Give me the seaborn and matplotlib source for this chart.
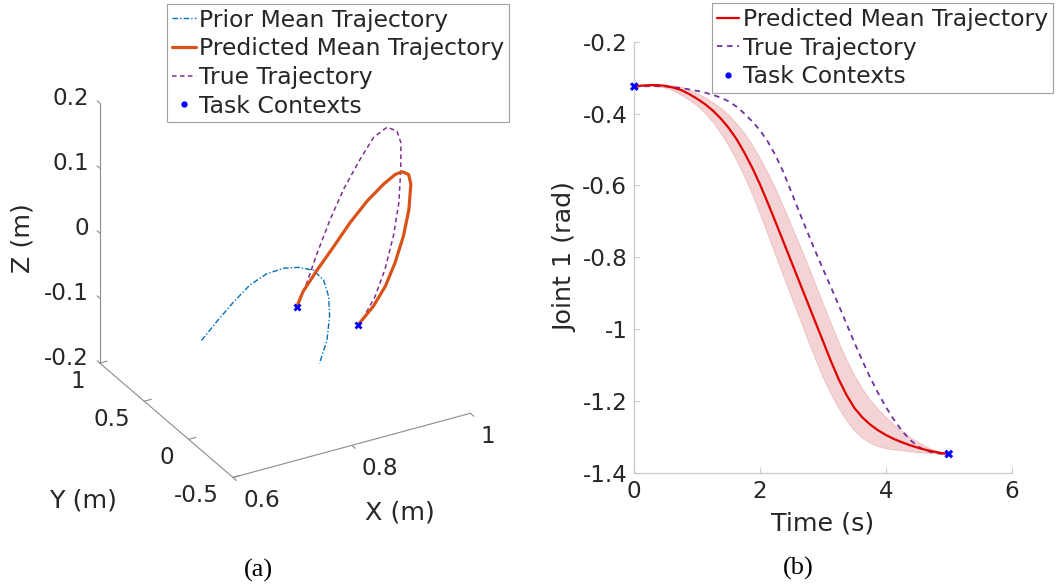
import numpy as np
import matplotlib
matplotlib.use("Agg")
import matplotlib.pyplot as plt
from matplotlib.lines import Line2D
import seaborn as sns

# ---------------- panel (a): 3D trajectories (m) ----------------
x_lim = (0.6, 1.0)
y_lim = (-0.5, 1.0)
z_lim = (-0.2, 0.2)
x_ticks = [0.6, 0.8, 1.0]
x_ticklabels = ["0.6", "0.8", "1"]
y_ticks = [-0.5, 0.0, 0.5, 1.0]
y_ticklabels = ["-0.5", "0", "0.5", "1"]
z_ticks = [-0.2, -0.1, 0.0, 0.1, 0.2]
z_ticklabels = ["-0.2", "-0.1", "0", "0.1", "0.2"]

prior_x = [0.704, 0.725, 0.749, 0.772, 0.796, 0.820, 0.840, 0.861, 0.874, 0.878, 0.875, 0.866, 0.849]
prior_y = [0.55, 0.52, 0.49, 0.46, 0.43, 0.40, 0.37, 0.34, 0.31, 0.28, 0.25, 0.22, 0.19]
prior_z = [-0.138, -0.111, -0.083, -0.059, -0.044, -0.038, -0.038, -0.044, -0.059, -0.082, -0.108, -0.139, -0.167]

pred_x = [0.842, 0.849, 0.869, 0.893, 0.917, 0.942, 0.966, 0.982, 0.990, 0.997, 0.997, 0.990, 0.977, 0.959, 0.939, 0.915, 0.886]
pred_y = [0.4, 0.375, 0.35, 0.325, 0.3, 0.275, 0.25, 0.225, 0.2, 0.175, 0.15, 0.125, 0.1, 0.075, 0.05, 0.025, 0.0]
pred_z = [-0.103, -0.078, -0.047, -0.014, 0.020, 0.050, 0.073, 0.087, 0.092, 0.089, 0.077, 0.043, 0.008, -0.026, -0.054, -0.076, -0.094]

true_x = [0.842, 0.855, 0.869, 0.887, 0.906, 0.930, 0.949, 0.968, 0.981, 0.984, 0.980, 0.973, 0.960, 0.942, 0.922, 0.898, 0.886]
true_y = [0.4, 0.375, 0.35, 0.325, 0.3, 0.275, 0.25, 0.225, 0.2, 0.175, 0.15, 0.125, 0.1, 0.075, 0.05, 0.025, 0.0]
true_z = [-0.103, -0.067, -0.021, 0.029, 0.074, 0.117, 0.149, 0.163, 0.157, 0.141, 0.104, 0.057, 0.012, -0.032, -0.065, -0.090, -0.094]

ctx_x = [0.842, 0.886]
ctx_y = [0.4, 0.0]
ctx_z = [-0.103, -0.094]

# ---------------- panel (b): joint 1 over time ----------------
time_s = [0.0, 0.125, 0.25, 0.375, 0.5, 0.625, 0.75, 0.875, 1.0, 1.125, 1.25, 1.375, 1.5, 1.625,
          1.75, 1.875, 2.0, 2.125, 2.25, 2.375, 2.5, 2.625, 2.75, 2.875, 3.0, 3.125, 3.25, 3.375,
          3.5, 3.625, 3.75, 3.875, 4.0, 4.125, 4.25, 4.375, 4.5, 4.625, 4.75, 4.875, 5.0]
pred_mean = [-0.325, -0.322, -0.321, -0.321, -0.323, -0.328, -0.335, -0.346, -0.359, -0.374, -0.392,
             -0.414, -0.440, -0.471, -0.509, -0.551, -0.598, -0.650, -0.704, -0.759, -0.814, -0.869,
             -0.924, -0.979, -1.034, -1.089, -1.140, -1.184, -1.220, -1.246, -1.266, -1.282, -1.295,
             -1.306, -1.315, -1.323, -1.330, -1.336, -1.341, -1.345, -1.348]
pred_lower = [-0.325, -0.322, -0.322, -0.324, -0.328, -0.336, -0.348, -0.362, -0.378, -0.399, -0.424,
              -0.455, -0.489, -0.530, -0.575, -0.625, -0.680, -0.738, -0.797, -0.855, -0.912, -0.969,
              -1.027, -1.082, -1.135, -1.180, -1.220, -1.255, -1.283, -1.303, -1.317, -1.326, -1.332,
              -1.335, -1.337, -1.340, -1.342, -1.344, -1.346, -1.348, -1.350]
pred_upper = [-0.325, -0.321, -0.320, -0.319, -0.320, -0.322, -0.326, -0.334, -0.344, -0.355, -0.369,
              -0.385, -0.404, -0.428, -0.455, -0.488, -0.526, -0.567, -0.612, -0.662, -0.714, -0.766,
              -0.819, -0.875, -0.930, -0.985, -1.038, -1.087, -1.130, -1.167, -1.198, -1.224, -1.246,
              -1.266, -1.284, -1.300, -1.314, -1.326, -1.336, -1.343, -1.348]
true_joint = [-0.325, -0.324, -0.324, -0.324, -0.325, -0.327, -0.329, -0.333, -0.337, -0.342, -0.348,
              -0.356, -0.366, -0.381, -0.400, -0.422, -0.447, -0.479, -0.518, -0.565, -0.620, -0.675,
              -0.729, -0.782, -0.833, -0.883, -0.934, -0.986, -1.038, -1.088, -1.135, -1.178, -1.217,
              -1.252, -1.282, -1.307, -1.326, -1.338, -1.344, -1.347, -1.348]
ctx_t = [0.0, 5.0]
ctx_joint = [-0.325, -1.348]
t_ticks = [0, 2, 4, 6]
j_ticks = [-1.4, -1.2, -1.0, -0.8, -0.6, -0.4, -0.2]
j_ticklabels = ["-1.4", "-1.2", "-1", "-0.8", "-0.6", "-0.4", "-0.2"]

legend_a = ["Prior Mean Trajectory", "Predicted Mean Trajectory", "True Trajectory", "Task Contexts"]
legend_b = ["Predicted Mean Trajectory", "True Trajectory", "Task Contexts"]

# ---------------- style ----------------
sns.set_theme(style="ticks")
plt.rcParams["font.family"] = ["DejaVu Sans"]
plt.rcParams["axes.unicode_minus"] = False

W, H = 1060, 586
fig = plt.figure(figsize=(W / 100, H / 100), dpi=100)

TICK_FS = 16.6
LABEL_FS = 18.3
LEG_FS = 16.9
TXT = "#262626"
C_PRIOR = "#0072bd"
C_PRED = "#d95319"
C_TRUE = "#7e2f8e"
C_TRUE_B = "#7030a0"
C_RED = "#e00000"
C_CTX = "#0000ff"
AX3_COL = "#8c8c8c"
AX2_COL = "#cccccc"

# ---------------- panel (a) ----------------
S0 = 450
ax3 = fig.add_axes([0.0, 0.05, S0 / W, S0 / H], projection="3d",
                   proj_type="ortho", computed_zorder=False)
ax3.set_xlim(*x_lim)
ax3.set_ylim(*y_lim)
ax3.set_zlim(*z_lim)
ax3.view_init(elev=28.8, azim=-119.3)
ax3.set_box_aspect((1, 1, 1.09))
ax3.set_axis_off()
ax3.patch.set_visible(False)

x0, x1 = x_lim
y0, y1 = y_lim
z0, z1 = z_lim
ax3.plot([x0, x1], [y0, y0], [z0, z0], color=AX3_COL, lw=0.8, zorder=1)
ax3.plot([x0, x0], [y0, y1], [z0, z0], color=AX3_COL, lw=0.8, zorder=1)
ax3.plot([x0, x0], [y1, y1], [z0, z1], color=AX3_COL, lw=0.8, zorder=1)
for xv in x_ticks:
    ax3.plot([xv, xv], [y0, y0 - 0.04], [z0, z0], color=AX3_COL, lw=0.8, zorder=1)
for yv in y_ticks:
    ax3.plot([x0, x0 + 0.012], [yv, yv], [z0, z0], color=AX3_COL, lw=0.8, zorder=1)
for zv in z_ticks:
    ax3.plot([x0, x0], [y1, y1 + 0.03], [zv, zv], color=AX3_COL, lw=0.8, zorder=1)

ax3.plot(prior_x, prior_y, prior_z, color=C_PRIOR, lw=1.0, linestyle=(0, (4, 1.5, 1, 1.5)), zorder=2)
ax3.plot(true_x, true_y, true_z, color=C_TRUE, lw=1.1, linestyle=(0, (3, 2.2)), zorder=3)
ax3.plot(pred_x, pred_y, pred_z, color=C_PRED, lw=2.3, zorder=4,
         solid_capstyle="round", solid_joinstyle="round")
ax3.plot(ctx_x, ctx_y, ctx_z, ls="none", marker="X", ms=6, color=C_CTX, mec="none", zorder=5)

# fit the projected box onto the reference layout
fig.canvas.draw()
M = ax3.get_proj()


def q_of(pts):
    pts = np.atleast_2d(np.asarray(pts, float))
    hom = np.column_stack([pts, np.ones(len(pts))]) @ M.T
    proj = hom[:, :2] / hom[:, 3:4]
    return ax3.transAxes.inverted().transform(ax3.transData.transform(proj))


corners = [[x0, y0, z0], [x1, y0, z0], [x0, y1, z0], [x0, y1, z1]]
targets = np.array([[233, H - 478], [470, H - 414], [100, H - 362], [100, H - 103]], float)
q = q_of(corners)
qm, tm = q.mean(0), targets.mean(0)
S = np.sum((q - qm) * (targets - tm)) / np.sum((q - qm) ** 2)
o = tm - S * qm
ax3.set_position([o[0] / W, o[1] / H, S / W, S / H])


def pix(pt):
    return o + S * q_of(pt)[0]


def label3d(pt, s, dx, dy, **kw):
    p = pix(pt)
    fig.text((p[0] + dx) / W, (p[1] + dy) / H, s, color=TXT, **kw)


for xv, lab in zip(x_ticks, x_ticklabels):
    label3d([xv, y0, z0], lab, 10, -23, ha="left", va="center", fontsize=TICK_FS)
for yv, lab in zip(y_ticks, y_ticklabels):
    label3d([x0, yv, z0], lab, -14.5, -18, ha="right", va="center", fontsize=TICK_FS)
for zv, lab in zip(z_ticks, z_ticklabels):
    label3d([x0, y1, zv], lab, -11, 5, ha="right", va="center", fontsize=TICK_FS)
label3d([(x0 + x1) / 2, y0, z0], "X (m)", 48.5, -67, ha="center", va="center", fontsize=LABEL_FS)
label3d([x0, (y0 + y1) / 2, z0], "Y (m)", -83.5, -80, ha="center", va="center", fontsize=LABEL_FS)
label3d([x0, y1, (z0 + z1) / 2], "Z (m)", -77, -4.5, ha="center", va="center",
        rotation=90, fontsize=LABEL_FS)

h_prior = Line2D([], [], color=C_PRIOR, lw=1.0, linestyle=(0, (4, 1.5, 1, 1.5)))
h_pred = Line2D([], [], color=C_PRED, lw=2.3)
h_true = Line2D([], [], color=C_TRUE, lw=1.1, linestyle=(0, (3, 2.2)))
h_ctx = Line2D([], [], color=C_CTX, marker="o", ms=3.5, ls="none")
leg_a = fig.legend([h_prior, h_pred, h_true, h_ctx], legend_a, loc="upper left",
                   bbox_to_anchor=(167 / W, 1 - 4 / H), bbox_transform=fig.transFigure,
                   fontsize=LEG_FS, handlelength=1.05, handletextpad=0.1, labelspacing=0.24,
                   borderpad=0.2, borderaxespad=0, fancybox=False, framealpha=1,
                   edgecolor="#a0a0a0")
leg_a.get_frame().set_linewidth(0.8)

# ---------------- panel (b) ----------------
ax2 = fig.add_axes([634.3 / W, 1 - 472.7 / H, 377.4 / W, 431 / H])
ax2.fill_between(time_s, pred_lower, pred_upper, facecolor="#f3d3d3", edgecolor="#ecbcbc",
                 lw=0.6, zorder=1)
sns.lineplot(x=time_s, y=true_joint, ax=ax2, color=C_TRUE_B, lw=1.3,
             linestyle=(0, (3, 2.6)), zorder=2)
sns.lineplot(x=time_s, y=pred_mean, ax=ax2, color=C_RED, lw=1.6, zorder=3)
sns.scatterplot(x=ctx_t, y=ctx_joint, ax=ax2, marker="X", s=40, color=C_CTX,
                edgecolor="none", clip_on=False, zorder=5)

ax2.set_xlim(0, 6)
ax2.set_ylim(-1.4, -0.2)
ax2.set_xticks(t_ticks)
ax2.set_yticks(j_ticks)
ax2.set_yticklabels(j_ticklabels)
sns.despine(ax=ax2)
for s in ["left", "bottom"]:
    ax2.spines[s].set_color(AX2_COL)
    ax2.spines[s].set_linewidth(1.0)
ax2.tick_params(direction="in", length=4, width=0.8, color=AX2_COL, labelsize=TICK_FS,
                labelcolor=TXT, pad=5)
ax2.set_xlabel("Time (s)", fontsize=LABEL_FS, color=TXT)
ax2.set_ylabel("Joint 1 (rad)", fontsize=LABEL_FS, color=TXT)
ax2.xaxis.set_label_coords(0.5, -0.117)
ax2.xaxis.label.set_va("center")
ax2.yaxis.set_label_coords(-0.184, 0.5)
ax2.yaxis.label.set_va("center")

hb_pred = Line2D([], [], color=C_RED, lw=1.6)
hb_true = Line2D([], [], color=C_TRUE_B, lw=1.3, linestyle=(0, (3, 2.6)))
hb_ctx = Line2D([], [], color=C_CTX, marker="o", ms=3.5, ls="none")
leg_b = fig.legend([hb_pred, hb_true, hb_ctx], legend_b, loc="upper left",
                   bbox_to_anchor=(712.3 / W, 1 - 3.3 / H), bbox_transform=fig.transFigure,
                   fontsize=LEG_FS, handlelength=0.95, handletextpad=0.15, labelspacing=0.24,
                   borderpad=0.2, borderaxespad=0, fancybox=False, framealpha=1,
                   edgecolor="#a0a0a0")
leg_b.get_frame().set_linewidth(0.8)

fig.text(258 / W, 1 - 570 / H, "(a)", ha="center", va="center",
         family="Liberation Serif", fontsize=19, color="black")
fig.text(798 / W, 1 - 568 / H, "(b)", ha="center", va="center",
         family="Liberation Serif", fontsize=19, color="black")

fig.savefig("out.png", dpi=100)
